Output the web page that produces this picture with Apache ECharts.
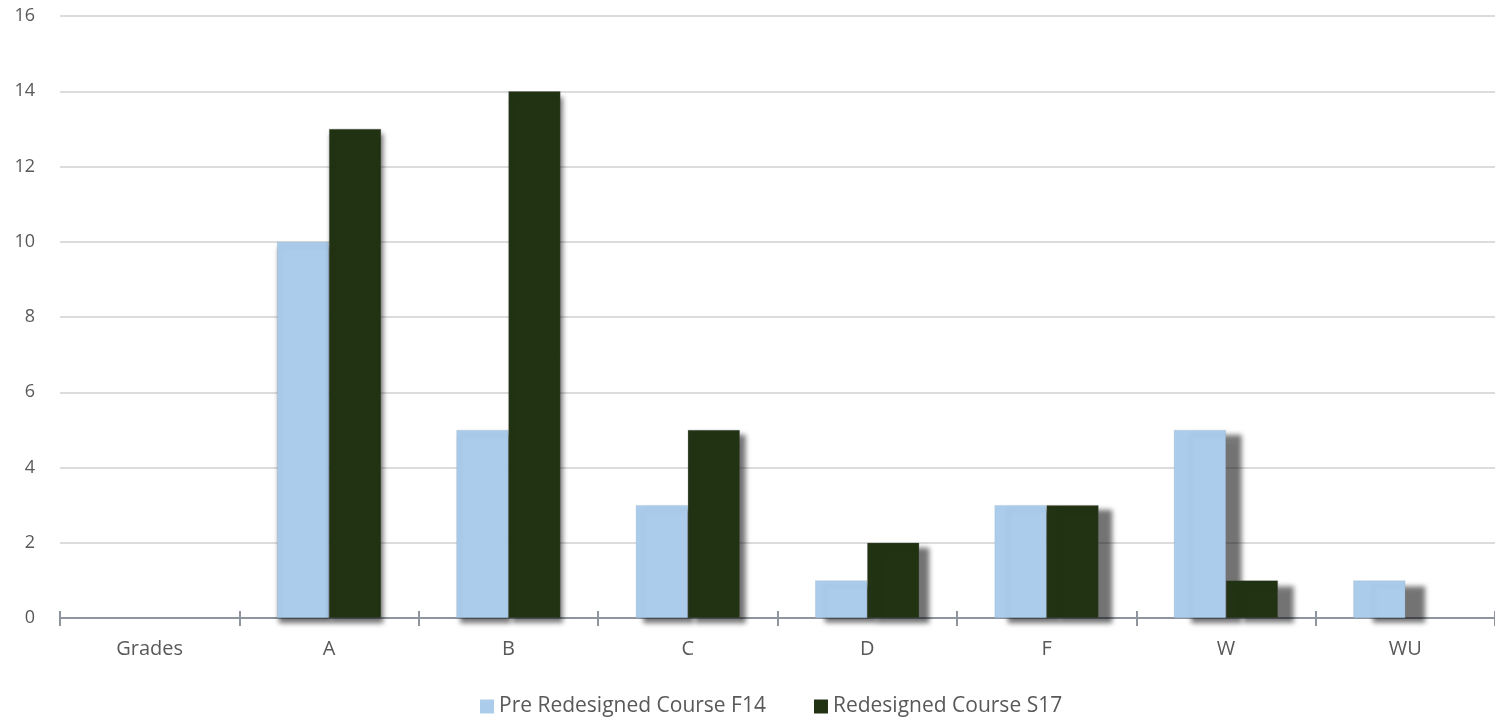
<!DOCTYPE html>
<html>
<head>
<meta charset="utf-8">
<title>Grades</title>
<script src="https://cdn.jsdelivr.net/npm/echarts@6/dist/echarts.min.js"></script>
<style>
  html, body { margin: 0; padding: 0; background: #ffffff; }
  #chart { width: 1495px; height: 721px; }
</style>
</head>
<body>
<div id="chart"></div>
<script>
// Grade distribution: before and after the course redesign
const categories = ['Grades', 'A', 'B', 'C', 'D', 'F', 'W', 'WU'];
const seriesNames = ['Pre Redesigned Course F14', 'Redesigned Course S17'];
const preRedesigned = [0, 10, 5, 3, 1, 3, 5, 1];
const redesigned = [0, 13, 14, 5, 2, 3, 1, 0];
const yTicks = { min: 0, max: 16, interval: 2 };

const colors = ['#abcdeb', '#223314'];
const edgeColors = ['rgba(120,140,160,0.35)', 'rgba(90,90,90,0.5)'];

// Drop shadow that lengthens toward the right, as if lit from the left;
// empty bars get no edge and no shadow
function styled(values, s) {
  return values.map((v, i) => ({
    value: v,
    itemStyle: v === 0
      ? { borderWidth: 0, shadowColor: 'rgba(0,0,0,0)', shadowBlur: 0, opacity: 0 }
      : {
          borderColor: edgeColors[s],
          borderWidth: 0.5,
          shadowColor: 'rgba(0,0,0,0.55)',
          shadowBlur: 5,
          shadowOffsetX: Math.max(2, 3.3 * (i - 1)),
          shadowOffsetY: 5
        }
  }));
}

const chart = echarts.init(document.getElementById('chart'));

chart.setOption({
  animation: false,
  backgroundColor: '#ffffff',
  color: colors,
  grid: { left: 60, right: 0, top: 16, bottom: 103, containLabel: false },
  legend: {
    top: 696,
    left: 480,
    padding: 0,
    itemWidth: 14,
    itemHeight: 14,
    itemGap: 48,
    icon: 'rect',
    textStyle: { fontFamily: 'Open Sans', fontSize: 21, color: '#595959' },
    data: seriesNames
  },
  xAxis: [
    {
      type: 'category',
      data: categories,
      axisLine: { show: true, lineStyle: { color: '#8f959e', width: 2 } },
      axisTick: { show: true, length: 8, lineStyle: { color: '#8f959e', width: 2 } },
      axisLabel: { fontFamily: 'Open Sans', fontSize: 20, color: '#595959', margin: 21 },
      splitLine: { show: false }
    },
    {
      type: 'category',
      data: categories,
      position: 'bottom',
      axisLine: { show: false },
      axisTick: { show: true, inside: true, length: 7, lineStyle: { color: '#8f959e', width: 2 } },
      axisLabel: { show: false },
      splitLine: { show: false }
    }
  ],
  yAxis: {
    type: 'value',
    min: yTicks.min,
    max: yTicks.max,
    interval: yTicks.interval,
    axisLine: { show: false },
    axisTick: { show: false },
    axisLabel: { fontFamily: 'Open Sans', fontSize: 18, color: '#595959', margin: 25 },
    splitLine: { lineStyle: { color: '#dcdcdc', width: 2 } }
  },
  series: [
    {
      name: seriesNames[0],
      type: 'bar',
      xAxisIndex: 0,
      barWidth: 52,
      barGap: '0%',
      itemStyle: { color: colors[0] },
      data: styled(preRedesigned, 0)
    },
    {
      name: seriesNames[1],
      type: 'bar',
      xAxisIndex: 0,
      barWidth: 52,
      barGap: '0%',
      itemStyle: { color: colors[1] },
      data: styled(redesigned, 1)
    }
  ]
});
</script>
</body>
</html>
